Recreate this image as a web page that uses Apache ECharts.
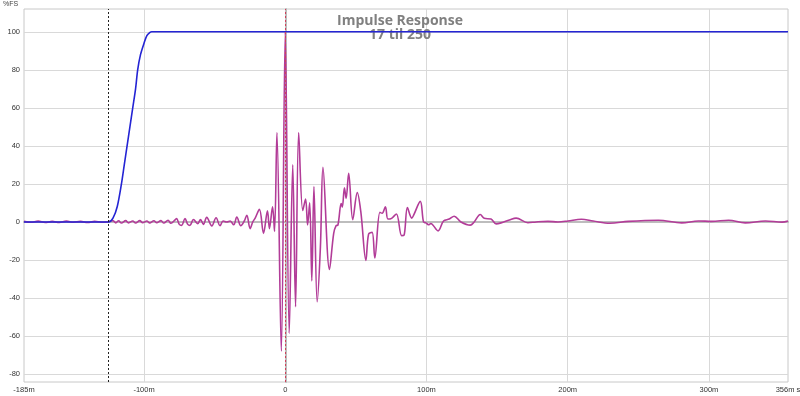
<!DOCTYPE html>
<html><head><meta charset="utf-8">
<script src="https://cdn.jsdelivr.net/npm/echarts@6/dist/echarts.min.js"></script>
<style>html,body{margin:0;padding:0;background:#fff}#c{width:800px;height:396px}</style>
</head><body><div id="c"></div>
<script>
// x tick positions (ms) and labels
const xTicks = [-185, -100, 0, 100, 200, 300, 356];
const xGridTicks = [-100, 0, 100, 200, 300];
const yTicks = [-80, -60, -40, -20, 0, 20, 40, 60, 80, 100];
const markerLines = [-125, 0];

// Impulse response (ms, %FS)
const impulse = [
[-185,0.3],[-180,-0.2],[-175,0.4],[-170,-0.3],[-165,0.3],[-160,-0.3],[-155,0.4],[-150,-0.2],[-145,0.3],[-140,-0.3],[-135,0.3],[-130,-0.2],[-125,0.2],
[-122,0.7],[-120,-0.5],[-118,0.6],[-116,-0.6],[-113,0.7],[-111,-0.5],[-108,0.5],[-106,-0.6],[-103,0.7],[-101,-0.4],[-98,0.5],[-96,-0.5],[-93,0.6],[-91,-0.4],[-88,0.7],[-86,-0.6],[-83,0.9],[-81,-0.7],[-78,1.1],
[-77,1.8],[-75,-1.3],[-73.4,-1.8],[-71,1.8],[-69,-1.3],[-67.5,-1.8],[-65,1.3],[-62,-0.9],[-60,1.3],[-58,-1.3],[-55.6,2.4],[-52,-2.1],[-49,2.2],[-46.2,-2],[-44,0.5],[-41.4,0],[-39,0.5],[-36.5,-1.5],[-34.3,2.6],[-31.5,-2],[-29,0.5],[-27.2,3.5],[-24.9,-3.5],[-23,0],[-21.3,2],
[-18.3,6.6],[-15.4,-6],[-12.6,5.8],[-11.2,-3.5],[-9,8],[-7.6,-5],[-5.9,47],[-2.8,-68],[0,100],[2.8,-58.6],[5.3,30],[7.3,-44.6],[9.5,47],
[12.4,6],[14.4,12],[15.8,-1.6],[17.3,10],[18.8,-31],[20.3,18.6],[22.6,-42],[24.9,-13],[26.7,28.7],[31.3,-25],
[34.3,-6],[36,-2],[37.3,-1.6],[39.6,9.6],[40.4,7.8],[41.9,18],[43.1,12.4],[44.9,25.6],[47.8,1.2],[51,15.4],[53.5,5.4],[57.1,-20.2],[59,-6.4],[61.5,-5.5],[63.4,-19],
[67,5],[68.6,4.6],[70.9,8],[72.7,1.5],[75.3,1.9],[78.7,4.2],[82.4,-7.2],[84.1,-7],[86.5,7.5],[89.6,2],[91,3.7],[95.6,10.8],[97.9,0],[99.5,-0.5],[101.8,-1.5],[103,-0.8],[108.2,-4.7],
[112.1,0.5],[116.1,1.5],[119.6,3],[124.4,0],[131,-1.7],[133.8,0],[138.1,3.9],[140.9,1.9],[145.7,1.5],[149.3,-1],[152.8,-0.5],[158.7,1],[163.5,2],[171.8,-0.4],[177.7,0],[186,0.3],[193.1,0],[200.2,0.5],[209.7,1.4],[218,0.5],[229.8,-0.7],[242.9,0.3],[264.2,0.9],[280.7,-0.5],[292.6,0.5],[302,0.3],[313.9,0.9],[325.7,-0.5],[340,0.5],[351.8,-0.1],[356,0.5]
];

// Step response (ms, %FS)
const step = [
[-185,0],[-125,0],[-122,2],[-119,8],[-116,20],[-114,30],[-112,40],[-110,50],[-108,60],[-106,70],[-104.5,80],[-102.5,88],[-100,94],[-98,98],[-96,99.6],[-94.5,100],[356,100]
];

const chart = echarts.init(document.getElementById('c'), null, {renderer: 'canvas'});
const labelFont = {fontSize: 7.5, color: '#333', fontFamily: 'Liberation Sans'};
chart.setOption({
  backgroundColor: '#fff',
  animation: false,
  title: {
    text: 'Impulse Response', subtext: '17 til 250', left: 'center', top: 9,
    itemGap: 0, z: 1,
    textStyle: {fontSize: 14, fontWeight: 'bold', color: '#808080', fontFamily: 'Open Sans'},
    subtextStyle: {fontSize: 14, fontWeight: 'bold', color: '#808080', fontFamily: 'Open Sans'}
  },
  graphic: [{type: 'text', left: 3, top: 1, style: {text: '%FS', fontSize: 7, fill: '#444', fontFamily: 'Liberation Sans'}}],
  grid: {left: 24, right: 12, top: 9, bottom: 14, outerBoundsMode: 'none', containLabel: false,
    show: true, borderColor: '#c8c8c8', borderWidth: 1},
  xAxis: {
    type: 'value', min: -185, max: 356,
    axisLine: {show: true, lineStyle: {color: '#bdbdbd', width: 2}},
    axisTick: {show: false, customValues: xGridTicks},
    axisLabel: Object.assign({customValues: xTicks, margin: 4,
      formatter: v => v === 0 ? '0' : (v === 356 ? '356m s' : v + 'm')}, labelFont),
    splitLine: {show: true, lineStyle: {color: '#d9d9d9', width: 1}}
  },
  yAxis: {
    type: 'value', min: -84.2, max: 112,
    axisLine: {show: true, lineStyle: {color: '#bdbdbd', width: 2}},
    axisTick: {show: false, customValues: yTicks},
    axisLabel: Object.assign({customValues: yTicks, margin: 4}, labelFont),
    splitLine: {show: true, lineStyle: {color: '#d9d9d9', width: 1}}
  },
  series: [
    {type: 'line', data: impulse, showSymbol: false, smooth: 0.35, z: 2,
     lineStyle: {color: '#b23c98', width: 1.6}},
    {type: 'line', data: step, showSymbol: false, smooth: 0.3, z: 3,
     lineStyle: {color: '#2424d4', width: 1.6}},
    {type: 'line', data: [], z: 4,
     markLine: {symbol: 'none', silent: true, label: {show: false},
       data: [
         {xAxis: markerLines[0], lineStyle: {color: '#222', type: [2, 2], width: 1}},
         {xAxis: markerLines[1], lineStyle: {color: '#d0405a', type: [2, 2], width: 1}}
       ]}}
  ]
});
</script></body></html>
